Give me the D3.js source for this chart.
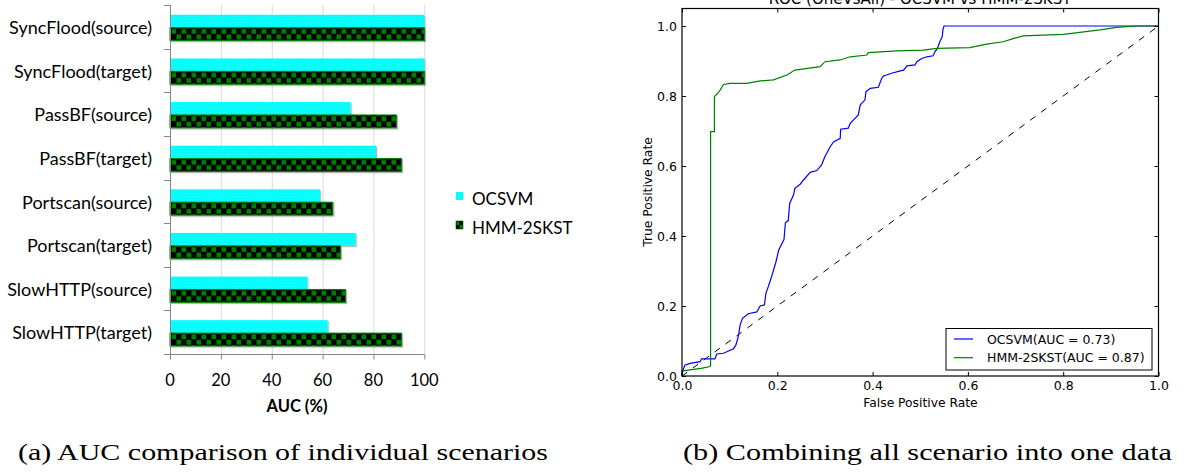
<!DOCTYPE html>
<html><head><meta charset="utf-8">
<script src="https://cdn.jsdelivr.net/npm/d3@7"></script>
<style>body{margin:0;background:#fff}svg{display:block}</style>
</head><body>
<svg id="c" width="1188" height="472"></svg>
<script>
// ---------- Data: (a) bar chart ----------
const categories = ["SyncFlood(source)","SyncFlood(target)","PassBF(source)","PassBF(target)",
  "Portscan(source)","Portscan(target)","SlowHTTP(source)","SlowHTTP(target)"];
const seriesNames = ["OCSVM","HMM-2SKST"];
const ocsvmAUC = [100,100,71,81,59,73,54,62];
const hmmAUC   = [100,100,89,91,64,67,69,91];
const barTicks = [0,20,40,60,80,100];
const barAxisLabel = "AUC (%)";

// ---------- Data: (b) ROC ----------
const rocTitle = "ROC (OneVsAll) - OCSVM vs HMM-2SKST";
const rocTicks = [0,0.2,0.4,0.6,0.8,1.0];
const rocLegend = ["OCSVM(AUC = 0.73)","HMM-2SKST(AUC = 0.87)"];
const ocsvmFPR = [0,0,0.006,0.017,0.038,0.041,0.069,0.073,0.087,0.108,0.113,0.118,0.122,0.127,0.139,0.157,0.164,0.173,0.176,0.181,0.188,0.197,0.203,0.214,0.217,0.223,0.226,0.234,0.237,0.248,0.255,0.269,0.283,0.293,0.300,0.311,0.318,0.332,0.333,0.349,0.353,0.363,0.370,0.374,0.384,0.386,0.395,0.412,0.419,0.423,0.440,0.458,0.465,0.472,0.489,0.493,0.503,0.514,0.527,0.531,0.536,0.541,0.546,0.548,0.550,1.0];
const ocsvmTPR = [0,0.008,0.031,0.036,0.041,0.049,0.049,0.063,0.065,0.078,0.088,0.112,0.146,0.165,0.178,0.183,0.200,0.203,0.236,0.255,0.284,0.325,0.360,0.390,0.438,0.444,0.493,0.517,0.536,0.548,0.560,0.582,0.587,0.603,0.627,0.655,0.669,0.679,0.705,0.708,0.722,0.736,0.746,0.774,0.789,0.812,0.822,0.825,0.850,0.857,0.865,0.872,0.874,0.886,0.889,0.898,0.907,0.912,0.915,0.927,0.936,0.955,0.969,0.993,1.0,1.0];
const hmmFPR = [0,0,0.02,0.04,0.059,0.060,0.060,0.068,0.068,0.073,0.080,0.087,0.101,0.136,0.164,0.192,0.220,0.237,0.290,0.300,0.332,0.353,0.388,0.391,0.451,0.506,0.535,0.604,0.639,0.674,0.695,0.716,0.800,0.835,0.877,0.912,0.954,1.0];
const hmmTPR = [0,0.014,0.018,0.022,0.027,0.030,0.698,0.698,0.798,0.805,0.817,0.833,0.836,0.836,0.843,0.846,0.860,0.874,0.884,0.898,0.903,0.912,0.917,0.924,0.929,0.931,0.936,0.938,0.948,0.955,0.964,0.972,0.976,0.982,0.989,0.996,1.0,1.0];

const captions = ["(a) AUC comparison of individual scenarios","(b) Combining all scenario into one data"];

const svg = d3.select("#c");
svg.append("rect").attr("width",1188).attr("height",472).attr("fill","#fff");
const defs = svg.append("defs");

// ================= (a) Bar chart =================
const barFont = "Lato, 'Open Sans', sans-serif";
const bx = d3.scaleLinear().domain([0,100]).range([170,424.3]);
const by = d3.scaleBand().domain(categories).range([5,354]);
const sub = d3.scaleBand().domain(seriesNames).range([9.8,35.6]);
const A = svg.append("g");

const cp = defs.append("pattern").attr("id","cyanDots").attr("patternUnits","userSpaceOnUse")
  .attr("width",3).attr("height",3);
cp.append("rect").attr("width",3).attr("height",3).attr("fill","#00ffff");
cp.append("rect").attr("x",1).attr("y",1).attr("width",1).attr("height",1).attr("fill","#3ef2f2");

const f = defs.append("filter").attr("id","sh").attr("x","-5%").attr("y","-20%").attr("width","110%").attr("height","160%");
f.append("feDropShadow").attr("dx",1.2).attr("dy",1.2).attr("stdDeviation",0.7)
  .attr("flood-color","#000").attr("flood-opacity",0.3);

categories.forEach((c,i)=>{
  const y0 = by(c)+sub("HMM-2SKST");
  const h = sub.bandwidth();
  const p = defs.append("pattern").attr("id","chk"+i).attr("patternUnits","userSpaceOnUse")
    .attr("x",bx(0)).attr("y",y0+1).attr("width",10).attr("height",(h-2));
  p.append("rect").attr("width",10).attr("height",h-2).attr("fill","#000");
  p.append("rect").attr("x",1.5).attr("y",0.3).attr("width",4.6).attr("height",(h-2)/2-0.6).attr("fill","#008000");
  p.append("rect").attr("x",6.5).attr("y",(h-2)/2+0.3).attr("width",4.6).attr("height",(h-2)/2-0.6).attr("fill","#008000");
  p.append("rect").attr("x",-3.5).attr("y",(h-2)/2+0.3).attr("width",4.6).attr("height",(h-2)/2-0.6).attr("fill","#008000");
});

A.selectAll("line.grid").data(barTicks.filter(d=>d>0)).join("line")
  .attr("x1",d=>bx(d)+0.5).attr("x2",d=>bx(d)+0.5).attr("y1",5).attr("y2",354)
  .attr("stroke","#d9d9d9").attr("stroke-width",1);

const bars = A.append("g").attr("filter","url(#sh)");
bars.selectAll("rect.oc").data(categories).join("rect")
  .attr("x",bx(0)).attr("y",c=>by(c)+sub("OCSVM"))
  .attr("width",(c,i)=>bx(ocsvmAUC[i])-bx(0)).attr("height",sub.bandwidth())
  .attr("fill","url(#cyanDots)");
bars.selectAll("rect.hm").data(categories).join("rect")
  .attr("x",bx(0)).attr("y",c=>by(c)+sub("HMM-2SKST"))
  .attr("width",(c,i)=>bx(hmmAUC[i])-bx(0)).attr("height",sub.bandwidth())
  .attr("fill",(c,i)=>"url(#chk"+i+")").attr("stroke","#008000").attr("stroke-width",1);

const axCol = "#868686";
A.append("line").attr("x1",170.5).attr("x2",170.5).attr("y1",5).attr("y2",354.5).attr("stroke",axCol);
A.append("line").attr("x1",170).attr("x2",424.8).attr("y1",354.5).attr("y2",354.5).attr("stroke",axCol);
const bounds = categories.map(c=>by(c)).concat([by.range()[1]]);
A.selectAll("line.ytk").data(bounds).join("line")
  .attr("x1",164).attr("x2",170.5).attr("y1",d=>Math.round(d)+0.5).attr("y2",d=>Math.round(d)+0.5).attr("stroke",axCol);
A.selectAll("line.xtk").data(barTicks).join("line")
  .attr("x1",d=>bx(d)+0.5).attr("x2",d=>bx(d)+0.5).attr("y1",354.5).attr("y2",359.5).attr("stroke",axCol);
A.selectAll("text.xl").data(barTicks).join("text")
  .attr("x",d=>bx(d)).attr("y",386).attr("text-anchor","middle")
  .attr("font-family",barFont).attr("font-size",16.5).attr("fill","#000").text(d=>d);
A.selectAll("text.cat").data(categories).join("text")
  .attr("x",152).attr("y",c=>by(c)+by.bandwidth()/2+1).attr("dy","0.35em").attr("text-anchor","end")
  .attr("font-family",barFont).attr("font-size",18).attr("fill","#000").text(c=>c);
A.append("text").attr("x",297).attr("y",412).attr("text-anchor","middle")
  .attr("font-family",barFont).attr("font-weight","bold").attr("font-size",16.5).text(barAxisLabel);

const lg = A.append("g");
lg.append("rect").attr("x",456).attr("y",192).attr("width",7).attr("height",8).attr("fill","#00ffff");
lg.append("rect").attr("x",456).attr("y",221).attr("width",7).attr("height",8).attr("fill","#000").attr("stroke","#006400").attr("stroke-width",0.6);
lg.append("rect").attr("x",456.5).attr("y",221.5).attr("width",3).attr("height",3.5).attr("fill","#008000");
lg.append("rect").attr("x",459.5).attr("y",225).attr("width",3).attr("height",3.5).attr("fill","#008000");
lg.selectAll("text").data(seriesNames).join("text")
  .attr("x",472).attr("y",(d,i)=>199+i*29.5).attr("dy","0.35em")
  .attr("font-family",barFont).attr("font-size",17).attr("fill","#000").text(d=>d);

// ================= (b) ROC =================
const rf = "'DejaVu Sans', sans-serif";
const rx = d3.scaleLinear().domain([0,1]).range([682,1158.5]);
const ry = d3.scaleLinear().domain([0,1.05]).range([376,8.5]);
const B = svg.append("g");

B.append("text").attr("x",920).attr("y",3.5).attr("text-anchor","middle")
  .attr("font-family",rf).attr("font-size",15).text(rocTitle);

B.append("line").attr("x1",rx(0)).attr("y1",ry(0)).attr("x2",rx(1)).attr("y2",ry(1))
  .attr("stroke","#000").attr("stroke-width",1).attr("stroke-dasharray","6.5,7");

const line = d3.line().x(d=>rx(d[0])).y(d=>ry(d[1]));
B.append("path").attr("d",line(ocsvmFPR.map((v,i)=>[v,ocsvmTPR[i]])))
  .attr("fill","none").attr("stroke","#0000ff").attr("stroke-width",1.2);
B.append("path").attr("d",line(hmmFPR.map((v,i)=>[v,hmmTPR[i]])))
  .attr("fill","none").attr("stroke","#008000").attr("stroke-width",1.2);

B.append("rect").attr("x",rx(0)).attr("y",ry(1.05)).attr("width",rx(1)-rx(0)).attr("height",ry(0)-ry(1.05))
  .attr("fill","none").attr("stroke","#000").attr("stroke-width",1.2);

const styleAx = g => { g.select(".domain").remove(); g.selectAll("line").attr("stroke","#000");
  g.selectAll("text").attr("font-family",rf).attr("font-size",12.5).attr("fill","#000"); };
B.append("g").attr("transform",`translate(0,${ry(0)})`)
  .call(d3.axisBottom(rx).tickValues(rocTicks).tickFormat(d3.format(".1f")).tickSizeInner(-4).tickSizeOuter(0).tickPadding(5)).call(styleAx);
B.append("g").attr("transform",`translate(0,${ry(1.05)})`)
  .call(d3.axisTop(rx).tickValues(rocTicks).tickFormat("").tickSizeInner(-4).tickSizeOuter(0)).call(styleAx);
B.append("g").attr("transform",`translate(${rx(0)},0)`)
  .call(d3.axisLeft(ry).tickValues(rocTicks).tickFormat(d3.format(".1f")).tickSizeInner(-4).tickSizeOuter(0).tickPadding(5)).call(styleAx);
B.append("g").attr("transform",`translate(${rx(1)},0)`)
  .call(d3.axisRight(ry).tickValues(rocTicks).tickFormat("").tickSizeInner(-4).tickSizeOuter(0)).call(styleAx);

B.append("text").attr("x",920.5).attr("y",407).attr("text-anchor","middle")
  .attr("font-family",rf).attr("font-size",12.3).text("False Positive Rate");
B.append("text").attr("transform","translate(652,192) rotate(-90)").attr("text-anchor","middle")
  .attr("font-family",rf).attr("font-size",12.3).text("True Positive Rate");

const L = B.append("g");
L.append("rect").attr("x",946).attr("y",328.5).attr("width",206).attr("height",41.5)
  .attr("fill","#fff").attr("stroke","#000").attr("stroke-width",1);
const lcols = ["#0000ff","#008000"];
rocLegend.forEach((t,i)=>{
  const yy = 339 + i*18.7;
  L.append("line").attr("x1",954).attr("x2",973).attr("y1",yy).attr("y2",yy).attr("stroke",lcols[i]).attr("stroke-width",1.2);
  L.append("text").attr("x",987).attr("y",yy+4.5).attr("font-family",rf).attr("font-size",12.5).text(t);
});

// ================= captions =================
const capX = [18,683], capW = [530,489];
svg.selectAll("text.cap").data(captions).join("text")
  .attr("x",(d,i)=>capX[i]).attr("y",460)
  .attr("font-family","'Liberation Serif','DejaVu Serif',serif").attr("font-size",23.5)
  .attr("textLength",(d,i)=>capW[i]).attr("lengthAdjust","spacingAndGlyphs").text(d=>d);
</script>
</body></html>
